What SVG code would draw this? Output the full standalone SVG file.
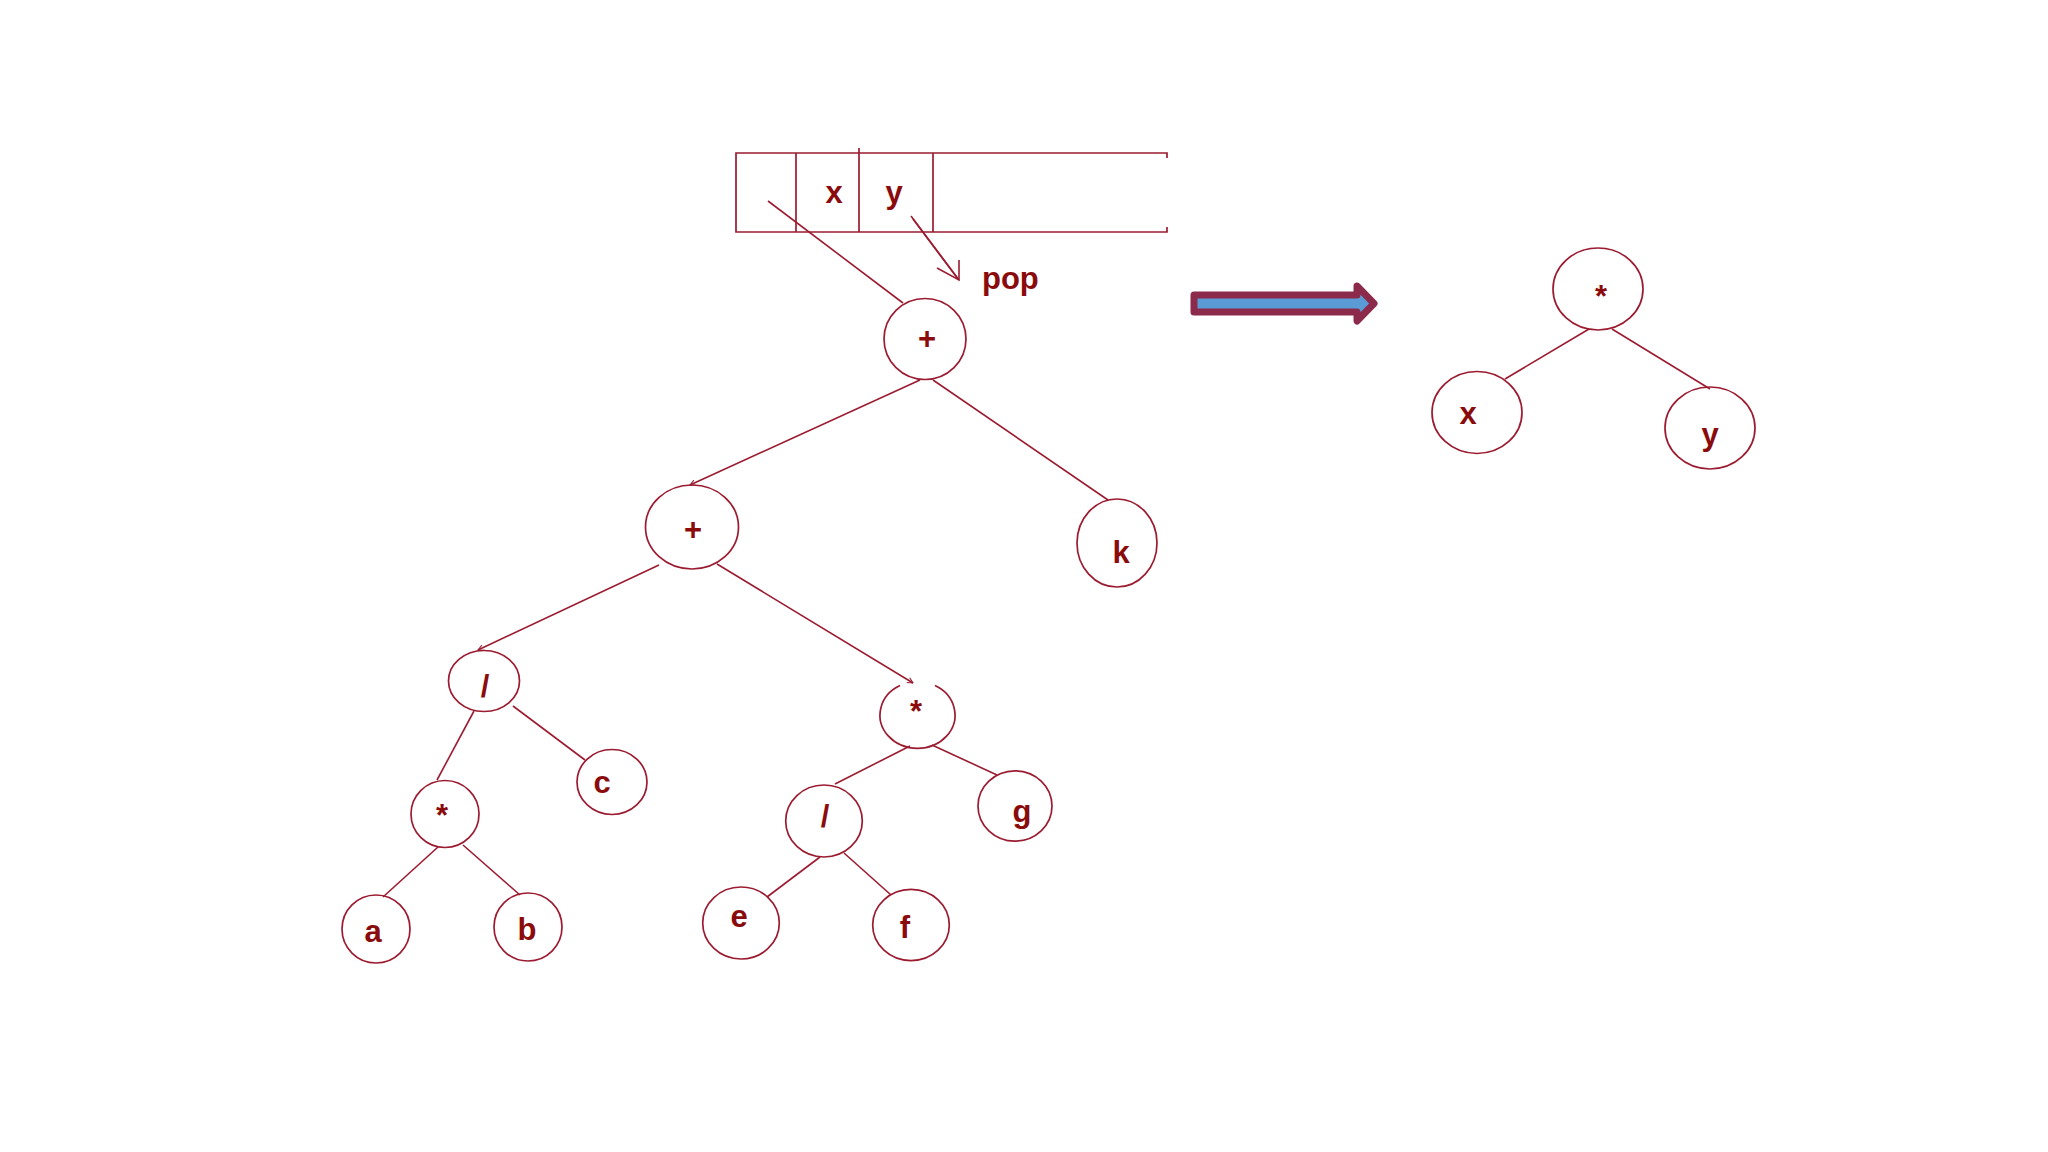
<svg xmlns="http://www.w3.org/2000/svg" width="2048" height="1152" viewBox="0 0 2048 1152">
<style>
.n{fill:none;stroke:#9B1C31;stroke-width:1.7}
.c{fill:none;stroke:#9B1C31;stroke-width:1.6}
.t{font-family:"Liberation Sans",Arial,sans-serif;font-weight:bold;font-size:31px;fill:#8A0B0B;text-anchor:middle}
</style>
<defs>
<marker id="tick" viewBox="0 0 10 10" refX="9" refY="5" markerWidth="7" markerHeight="7" orient="auto" markerUnits="userSpaceOnUse">
<path d="M1,1 L9,5 L1,9" fill="none" stroke="#9B1C31" stroke-width="1.5"/>
</marker>
</defs>
<rect width="2048" height="1152" fill="#ffffff"/>

<g id="stack">
<path class="n" d="M1167,158 L1167,153 L736,153 L736,232 L1167,232 L1167,227"/>
<line class="n" x1="796" y1="153" x2="796" y2="232"/>
<line class="n" x1="859" y1="148" x2="859" y2="232"/>
<line class="n" x1="933" y1="153" x2="933" y2="232"/>
<text class="t" x="834" y="203">x</text>
<text class="t" x="894" y="203">y</text>
</g>

<g id="pop-label">
<text class="t" x="982" y="289" style="text-anchor:start">pop</text>
</g>

<g id="connectors">
<line class="c" x1="768" y1="201" x2="903" y2="303"/>
<line class="c" x1="911" y1="216" x2="959" y2="280"/>
<line class="c" x1="913" y1="219" x2="958" y2="279"/>
<polyline class="c" points="937,268 959,280 959,260"/>
<line class="c" x1="920" y1="380" x2="690" y2="485" marker-end="url(#tick)"/>
<line class="c" x1="933" y1="380" x2="1108" y2="500"/>
<line class="c" x1="659" y1="565" x2="478" y2="650" marker-end="url(#tick)"/>
<line class="c" x1="717" y1="564" x2="913" y2="683" marker-end="url(#tick)"/>
<line class="c" x1="474" y1="711" x2="437" y2="780"/>
<line class="c" x1="513" y1="706" x2="585" y2="760"/>
<line class="c" x1="438" y1="847" x2="383" y2="897"/>
<line class="c" x1="463" y1="845" x2="520" y2="895"/>
<line class="c" x1="910" y1="746" x2="835" y2="784"/>
<line class="c" x1="932" y1="745" x2="997" y2="775"/>
<line class="c" x1="820" y1="857" x2="767" y2="897"/>
<line class="c" x1="844" y1="853" x2="891" y2="895"/>
<line class="c" x1="1589" y1="329" x2="1505" y2="379"/>
<line class="c" x1="1612" y1="329" x2="1710" y2="389"/>
</g>

<g id="node-plus1"><ellipse class="n" cx="925" cy="339" rx="41" ry="40.5"/><text class="t" x="927" y="349">+</text></g>
<g id="node-plus2"><ellipse class="n" cx="692" cy="527" rx="46.5" ry="42"/><text class="t" x="693" y="540">+</text></g>
<g id="node-k"><ellipse class="n" cx="1117" cy="543" rx="40" ry="44"/><text class="t" x="1121" y="563">k</text></g>
<g id="node-div1"><ellipse class="n" cx="484" cy="681" rx="35.5" ry="30.5"/><text class="t" x="485" y="697">/</text></g>
<g id="node-c"><ellipse class="n" cx="612" cy="782" rx="35" ry="32.5"/><text class="t" x="602" y="793">c</text></g>
<g id="node-star1"><ellipse class="n" cx="445" cy="814" rx="34" ry="33.5"/><text class="t" x="442" y="826">*</text></g>
<g id="node-a"><ellipse class="n" cx="376" cy="929" rx="34" ry="34"/><text class="t" x="373" y="942">a</text></g>
<g id="node-b"><ellipse class="n" cx="528" cy="927" rx="34" ry="34"/><text class="t" x="527" y="940">b</text></g>
<g id="node-star2"><path class="n" d="M935,685.6 A37.5,33.3 0 1 1 900,685.6"/><text class="t" x="916" y="722">*</text></g>
<g id="node-div2"><ellipse class="n" cx="824" cy="821" rx="38.3" ry="36"/><text class="t" x="825" y="827">/</text></g>
<g id="node-g"><ellipse class="n" cx="1015" cy="806" rx="37" ry="35.2"/><text class="t" x="1022" y="822">g</text></g>
<g id="node-e"><ellipse class="n" cx="741" cy="923" rx="38.3" ry="36"/><text class="t" x="739" y="927">e</text></g>
<g id="node-f"><ellipse class="n" cx="911" cy="925" rx="38.3" ry="35.7"/><text class="t" x="905" y="938">f</text></g>

<g id="transform-arrow">
<path d="M1194,295 L1357,295 L1357,286 L1374,303.5 L1357,321 L1357,312 L1194,312 Z" fill="#5B9BD5" stroke="#8C2A4C" stroke-width="7" stroke-linejoin="round"/>
</g>

<g id="node-star3"><ellipse class="n" cx="1598" cy="289" rx="45" ry="41"/><text class="t" x="1601" y="307">*</text></g>
<g id="node-x"><ellipse class="n" cx="1477" cy="412.5" rx="45" ry="41"/><text class="t" x="1468" y="424">x</text></g>
<g id="node-y"><ellipse class="n" cx="1710" cy="428" rx="45" ry="41"/><text class="t" x="1710" y="445">y</text></g>
</svg>
